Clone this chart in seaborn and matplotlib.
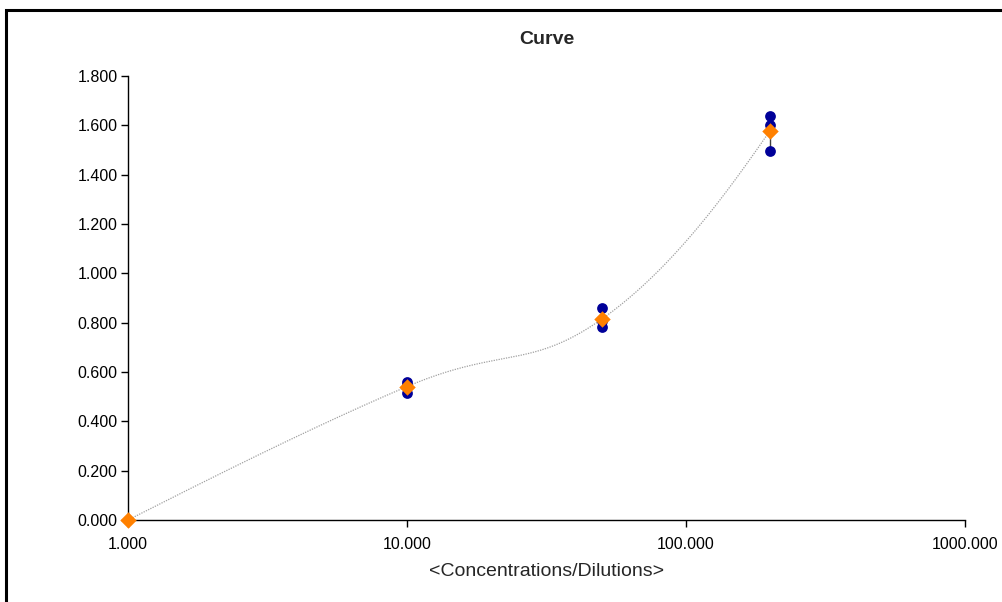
import numpy as np
import pandas as pd
import matplotlib
matplotlib.use("Agg")
import matplotlib.pyplot as plt
from matplotlib.patches import Rectangle
import seaborn as sns

# Data
rep_x = [10, 10, 10, 50, 50, 50, 200, 200, 200]
rep_y = [0.559, 0.548, 0.515, 0.859, 0.805, 0.782, 1.638, 1.601, 1.496]
mean_x = [1, 10, 50, 200]
mean_y = [0.000, 0.541, 0.815, 1.578]
x_ticks = [1, 10, 100, 1000]
x_tick_labels = ["1.000", "10.000", "100.000", "1000.000"]
y_ticks = [0.0, 0.2, 0.4, 0.6, 0.8, 1.0, 1.2, 1.4, 1.6, 1.8]

sns.set_theme(style="white")
plt.rcParams['font.family'] = ['Liberation Sans', 'DejaVu Sans']

W, H = 1003, 602
fig = plt.figure(figsize=(W / 100, H / 100), dpi=100)
L, R, T, B = 128, 965, 76, 520
ax = fig.add_axes([L / W, 1 - B / H, (R - L) / W, (B - T) / H])

# outer border
fig.patches.append(Rectangle((6.5 / W, -0.1), 1.2, 1 - 9.5 / H + 0.1,
                             transform=fig.transFigure, fill=False,
                             edgecolor="black", linewidth=2.2, zorder=0))

ax.set_xscale("log")
ax.set_xlim(1, 1000)
ax.set_ylim(0, 1.8)

# smoothed curve through means (Excel-like Bezier smoothing in display-like coordinates)
pw, ph = R - L, B - T
u = np.log10(mean_x) / 3 * pw
v = np.array(mean_y) / 1.8 * ph
P = np.column_stack([u, v])
n = len(P)
ctrl = []
for i in range(n - 1):
    p1, p2 = P[i], P[i + 1]
    c1 = p1 + (P[i + 1] - P[i - 1]) / 5 if i > 0 else None
    c2 = p2 - (P[i + 2] - P[i]) / 5 if i + 2 < n else None
    ctrl.append([p1, c1, c2, p2])
for seg in ctrl:
    p1, c1, c2, p2 = seg
    if c1 is None:
        seg[1] = p1 + (c2 - p1) / 2.5
    if c2 is None:
        seg[2] = p2 + (c1 - p2) / 2.5
pts = []
t = np.linspace(0, 1, 80)[:, None]
for p1, c1, c2, p2 in ctrl:
    pts.append(((1 - t) ** 3) * p1 + 3 * ((1 - t) ** 2) * t * c1
               + 3 * (1 - t) * t ** 2 * c2 + t ** 3 * p2)
curve = np.vstack(pts)
cx = 10 ** (curve[:, 0] / pw * 3)
cy = curve[:, 1] / ph * 1.8
ax.plot(cx, cy, color="#a0a0a0", linewidth=0.9, linestyle=(0, (1, 1)), zorder=2)

# error bars (min-max of replicates)
df = pd.DataFrame({"x": rep_x, "y": rep_y})
g = df.groupby("x")["y"]
for xv, lo, hi in zip(g.min().index, g.min().values, g.max().values):
    ax.errorbar([xv], [(lo + hi) / 2], yerr=[[(hi - lo) / 2], [(hi - lo) / 2]],
                fmt="none", ecolor="#404040", elinewidth=1.0, capsize=3, zorder=3)

sns.scatterplot(x=rep_x, y=rep_y, ax=ax, color="#000099", s=60,
                edgecolor="#000099", linewidth=0, zorder=4, clip_on=False)
sns.scatterplot(x=mean_x, y=mean_y, ax=ax, color="#FF8000", marker="D", s=70,
                edgecolor="#FF8000", linewidth=0, zorder=5, clip_on=False)

ax.set_xticks(x_ticks)
ax.set_xticklabels(x_tick_labels)
ax.minorticks_off()
ax.set_yticks(y_ticks)
ax.set_yticklabels([f"{t:.3f}" for t in y_ticks])

for s in ["top", "right"]:
    ax.spines[s].set_visible(False)
for s in ["left", "bottom"]:
    ax.spines[s].set_color("black")
    ax.spines[s].set_linewidth(1.0)
ax.tick_params(axis="both", which="major", direction="out", length=5, width=1,
               color="black", labelsize=11.5, labelcolor="black", left=True, bottom=True)
ax.tick_params(axis="y", pad=2.5)
ax.tick_params(axis="x", pad=7)
ax.grid(False)

ax.set_title("Curve", fontsize=14, fontweight="bold", pad=23)
ax.set_xlabel("<Concentrations/Dilutions>", fontsize=14, labelpad=8)

fig.savefig("out.png", dpi=100)
